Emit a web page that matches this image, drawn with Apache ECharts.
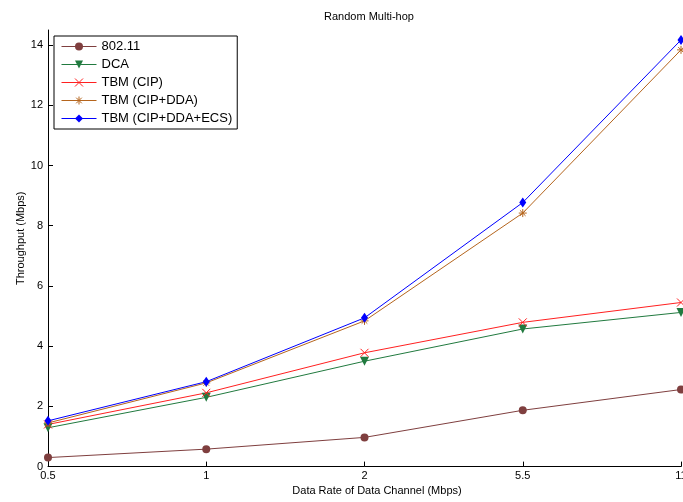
<!DOCTYPE html>
<html><head><meta charset="utf-8">
<script src="https://cdn.jsdelivr.net/npm/echarts@6/dist/echarts.min.js"></script>
<style>html,body{margin:0;padding:0;background:#fff}#c{width:683px;height:502px}</style>
</head><body><div id="c"></div>
<script>
var categories = ['0.5', '1', '2', '5.5', '11'];
var s80211 = [0.30, 0.58, 0.97, 1.87, 2.56];
var sDCA = [1.29, 2.30, 3.50, 4.57, 5.12];
var sCIP = [1.40, 2.45, 3.78, 4.79, 5.45];
var sDDA = [1.45, 2.78, 4.84, 8.42, 13.84];
var sECS = [1.52, 2.82, 4.94, 8.77, 14.17];
var yTicks = [0, 2, 4, 6, 8, 10, 12, 14];
var names = ['802.11', 'DCA', 'TBM (CIP)', 'TBM (CIP+DDA)', 'TBM (CIP+DDA+ECS)'];

var font = 'Liberation Sans, Arial, sans-serif';
function mk(name, data, color, symbol, size, opts) {
  var s = {
    name: name, type: 'line', data: data, symbol: symbol, symbolSize: size,
    lineStyle: {color: color, width: 1}, itemStyle: {color: color},
    emphasis: {disabled: true}, z: 2
  };
  if (opts) for (var k in opts) s[k] = opts[k];
  return s;
}
var chart = echarts.init(document.getElementById('c'));
chart.setOption({
  animation: false,
  backgroundColor: '#fff',
  title: {text: 'Random Multi-hop', left: 364, top: 6, textAlign: 'center',
    textStyle: {fontFamily: font, fontSize: 11, fontWeight: 'normal', color: '#000'}},
  grid: {left: 48, right: 2, top: 30, bottom: 35.4, outerBoundsMode: 'none', containLabel: false},
  legend: {
    orient: 'vertical', left: 54, top: 36, data: names,
    backgroundColor: '#fff', borderColor: '#000', borderWidth: 1, borderRadius: 0,
    padding: [4, 5, 4, 7], itemWidth: 35, itemHeight: 10, itemGap: 5,
    lineStyle: {width: 1}, itemStyle: {borderWidth: 1},
    textStyle: {fontFamily: font, fontSize: 13, color: '#000'}
  },
  xAxis: {
    type: 'category', data: categories, boundaryGap: false,
    name: 'Data Rate of Data Channel (Mbps)', nameLocation: 'middle', nameGap: 19,
    nameMoveOverlap: false,
    nameTextStyle: {fontFamily: font, fontSize: 11, color: '#000', padding: [0, 0, 0, 25]},
    axisLine: {lineStyle: {color: '#000', width: 1}},
    axisTick: {inside: true, length: 5, lineStyle: {color: '#000'}},
    axisLabel: {fontFamily: font, fontSize: 11, color: '#000', margin: 4, alignMaxLabel: 'center'},
    splitLine: {show: false}
  },
  yAxis: {
    type: 'value', min: 0, max: 14.5,
    name: 'Throughput (Mbps)', nameLocation: 'middle', nameGap: 22,
    nameMoveOverlap: false,
    nameTextStyle: {fontFamily: font, fontSize: 11, color: '#000', padding: [0, 0, 0, 20]},
    axisLine: {show: true, lineStyle: {color: '#000', width: 1}},
    axisTick: {show: true, inside: true, length: 5, customValues: yTicks, lineStyle: {color: '#000'}},
    axisLabel: {fontFamily: font, fontSize: 11, color: '#000', margin: 5, customValues: yTicks},
    splitLine: {show: false}
  },
  series: [
    mk(names[0], s80211, '#7f3f3f', 'circle', 8),
    mk(names[1], sDCA, '#217a3f', 'triangle', 9, {symbolRotate: 180}),
    mk(names[2], sCIP, '#ff2020', 'path://M0,0L10,10M10,0L0,10', 8,
       {itemStyle: {color: 'none', borderColor: '#ff2020', borderWidth: 1}}),
    mk(names[3], sDDA, '#b5651d', 'path://M5,0L5,10M0,5L10,5M1.5,1.5L8.5,8.5M8.5,1.5L1.5,8.5', 8,
       {itemStyle: {color: 'none', borderColor: '#b5651d', borderWidth: 1}}),
    mk(names[4], sECS, '#0000ff', 'diamond', [7, 10])
  ]
});
</script></body></html>
